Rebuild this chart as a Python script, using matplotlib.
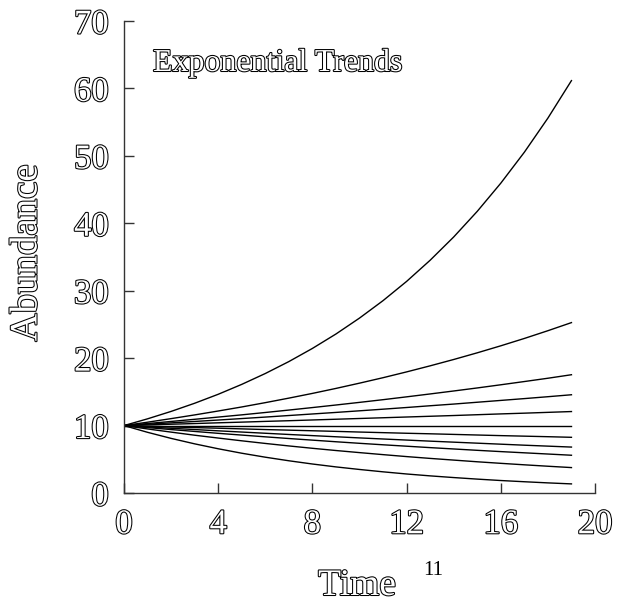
import matplotlib
matplotlib.use("Agg")
import matplotlib.pyplot as plt
import matplotlib.patheffects as pe

# Data: abundance over time for 11 exponential trends
time = list(range(20))
trend_110 = [10, 11, 12.1, 13.31, 14.64, 16.11, 17.72, 19.49, 21.44, 23.58, 25.94, 28.53, 31.38, 34.52, 37.97, 41.77, 45.95, 50.54, 55.6, 61.16]
trend_105 = [10, 10.5, 11.03, 11.58, 12.16, 12.76, 13.4, 14.07, 14.77, 15.51, 16.29, 17.1, 17.96, 18.86, 19.8, 20.79, 21.83, 22.92, 24.07, 25.27]
trend_103 = [10, 10.3, 10.61, 10.93, 11.26, 11.59, 11.94, 12.3, 12.67, 13.05, 13.44, 13.84, 14.26, 14.69, 15.13, 15.58, 16.05, 16.53, 17.02, 17.54]
trend_102 = [10, 10.2, 10.4, 10.61, 10.82, 11.04, 11.26, 11.49, 11.72, 11.95, 12.19, 12.43, 12.68, 12.94, 13.19, 13.46, 13.73, 14.0, 14.28, 14.57]
trend_101 = [10, 10.1, 10.2, 10.3, 10.41, 10.51, 10.62, 10.72, 10.83, 10.94, 11.05, 11.16, 11.27, 11.38, 11.49, 11.61, 11.73, 11.84, 11.96, 12.08]
trend_100 = [10, 10, 10, 10, 10, 10, 10, 10, 10, 10, 10, 10, 10, 10, 10, 10, 10, 10, 10, 10]
trend_099 = [10, 9.9, 9.8, 9.7, 9.61, 9.51, 9.41, 9.32, 9.23, 9.14, 9.04, 8.95, 8.86, 8.78, 8.69, 8.6, 8.51, 8.43, 8.35, 8.26]
trend_098 = [10, 9.8, 9.6, 9.41, 9.22, 9.04, 8.86, 8.68, 8.51, 8.34, 8.17, 8.01, 7.85, 7.69, 7.54, 7.39, 7.24, 7.09, 6.95, 6.81]
trend_097 = [10, 9.7, 9.41, 9.13, 8.85, 8.59, 8.33, 8.08, 7.84, 7.6, 7.37, 7.15, 6.94, 6.73, 6.53, 6.33, 6.14, 5.96, 5.78, 5.6]
trend_095 = [10, 9.5, 9.03, 8.57, 8.15, 7.74, 7.35, 6.98, 6.63, 6.3, 5.99, 5.69, 5.4, 5.13, 4.88, 4.63, 4.4, 4.18, 3.97, 3.77]
trend_090 = [10, 9, 8.1, 7.29, 6.56, 5.9, 5.31, 4.78, 4.3, 3.87, 3.49, 3.14, 2.82, 2.54, 2.29, 2.06, 1.85, 1.67, 1.5, 1.35]
series = [trend_110, trend_105, trend_103, trend_102, trend_101, trend_100,
          trend_099, trend_098, trend_097, trend_095, trend_090]

x_ticks = [0, 4, 8, 12, 16, 20]
y_ticks = [0, 10, 20, 30, 40, 50, 60, 70]
title_text = "Exponential Trends"
x_label = "Time"
y_label = "Abundance"
page_number = "11"

plt.rcParams['font.family'] = ['Liberation Serif', 'DejaVu Serif']
outline = [pe.Stroke(linewidth=1.5, foreground='black'), pe.Normal()]

fig = plt.figure(figsize=(6.23, 6.02), dpi=100)
ax = fig.add_axes([124/623, 1-493/602, (595-124)/623, (493-21)/602])

for s in series:
    ax.plot(time, s, color='black', lw=1.0)

ax.set_xlim(0, 20)
ax.set_ylim(0, 70)
ax.set_xticks(x_ticks)
ax.set_yticks(y_ticks)
for side in ['top', 'right']:
    ax.spines[side].set_visible(False)
for side in ['left', 'bottom']:
    ax.spines[side].set_linewidth(1.0)
    ax.spines[side].set_color('#333333')
ax.tick_params(direction='in', length=7, width=1.0, color='#333333', pad=11)
for lab in ax.get_xticklabels() + ax.get_yticklabels():
    lab.set_fontsize(25)
    lab.set_color('white')
    lab.set_path_effects(outline)

fig.text(153/623, 1-71/602, title_text, fontsize=23, color='white',
         ha='left', va='baseline', path_effects=outline)
fig.text(27/623, 1-253/602, y_label, fontsize=28, rotation=90, color='white',
         ha='center', va='center', path_effects=outline)
fig.text(357/623, 1-595/602, x_label, fontsize=27, color='white',
         ha='center', va='baseline', path_effects=outline)
fig.text(433/623, 1-575/602, page_number, fontsize=15, color='black',
         ha='center', va='baseline')

fig.savefig('out.png', dpi=100)
